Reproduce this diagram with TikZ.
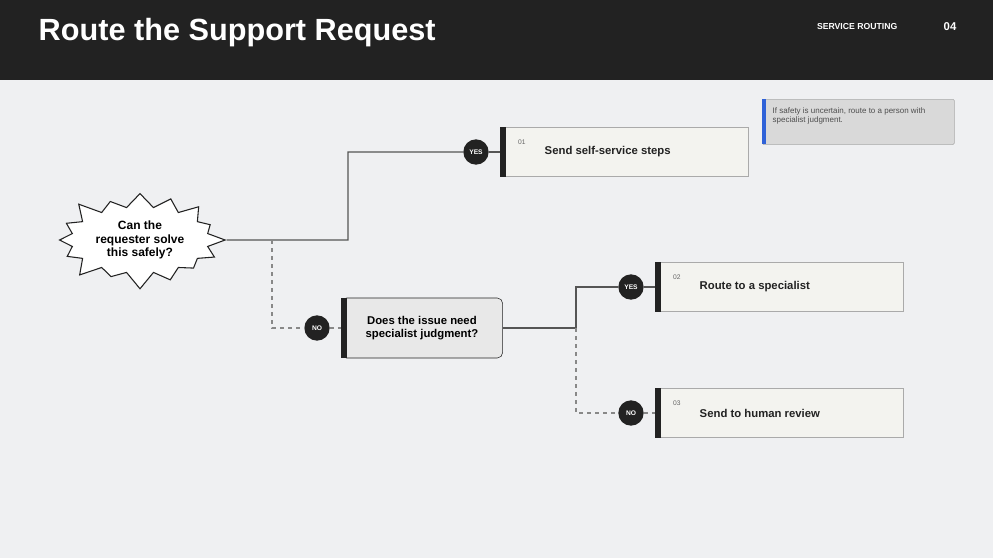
\documentclass[tikz,border=0pt]{standalone}
\usepackage{fontspec}
\setmainfont{Liberation Sans}
\usetikzlibrary{shapes.symbols}
\definecolor{ink}{HTML}{222222}
\definecolor{page}{HTML}{EFF0F2}
\definecolor{card}{HTML}{F3F3EF}
\definecolor{edge}{HTML}{AAAAAA}
\definecolor{wire}{HTML}{555555}
\definecolor{accent}{HTML}{2F62D8}
\tikzset{
  card/.style={draw=edge, fill=card, minimum width=186pt, minimum height=37pt, anchor=west},
  bar/.style={fill=ink},
  badge/.style={circle, fill=ink, text=white, minimum size=19pt, inner sep=0pt, font=\bfseries\fontsize{5}{5}\selectfont},
  link/.style={wire, line width=0.8pt},
  alt/.style={wire!70, line width=0.8pt, dashed}
}
\begin{document}
\begin{tikzpicture}[x=0.75pt, y=-0.75pt]
\fill[page] (0,0) rectangle (993,558);
\useasboundingbox (0,0) rectangle (993,558);
\fill[ink] (0,0) rectangle (993,80);
\node[anchor=west, text=white, font=\bfseries\fontsize{23}{23}\selectfont] (title) at (34,33) {Route the Support Request};
\node[anchor=east, text=white, font=\bfseries\fontsize{6.5}{6.5}\selectfont] (section) at (902,27) {SERVICE ROUTING};
\node[text=white, font=\bfseries\fontsize{8.5}{8.5}\selectfont] (page) at (950,27) {04};

% note
\node[draw=edge, fill=gray!30, rounded corners=1pt, minimum width=144pt, minimum height=34pt, anchor=north west] (note) at (762,99) {};
\fill[accent] (762,99) rectangle (766,144);
\node[anchor=north west, align=left, text=ink!80, font=\fontsize{6}{7}\selectfont] (notetext) at (768,103) {If safety is uncertain, route to a person with\\specialist judgment.};

% question 1
\node[starburst, starburst points=16, starburst point height=14pt, draw=ink, fill=white, line width=0.8pt,
      minimum width=103pt, minimum height=70pt, align=center, font=\bfseries\fontsize{9}{10}\selectfont] (q1) at (140,240) {Can the\\requester solve\\this safely?};

% question 2
\node[draw=ink, fill=gray!18, rounded corners=4pt, minimum width=121pt, minimum height=45pt, anchor=west,
      align=center, font=\bfseries\fontsize{8.5}{10}\selectfont] (q2) at (341,328) {Does the issue need\\specialist judgment?};
\fill[ink] (341,298) rectangle (347,358);

% outcomes
\foreach \name/\y/\num/\txt in {r1/152/01/Send self-service steps, r2/287/02/Route to a specialist, r3/413/03/Send to human review}{
  \ifx\name\empty\else\fi
}
\node[card] (r1) at (500,152) {};
\node[card] (r2) at (655,287) {};
\node[card] (r3) at (655,413) {};
\foreach \r/\num/\txt in {r1/01/Send self-service steps, r2/02/Route to a specialist, r3/03/Send to human review}{
  \fill[ink] (\r.north west) rectangle ([xshift=4.5pt]\r.south west);
  \node[anchor=north west, text=ink!70, font=\fontsize{5}{5}\selectfont] at ([xshift=10pt,yshift=-6pt]\r.north west) {\num};
  \node[anchor=west, text=ink, font=\bfseries\fontsize{8.5}{8.5}\selectfont] at ([xshift=30pt]\r.west) {\txt};
}

% badges
\node[badge] (y1) at (476,152) {YES};
\node[badge] (n1) at (317,328) {NO};
\node[badge] (y2) at (631,287) {YES};
\node[badge] (n2) at (631,413) {NO};

% connectors
\coordinate (s1) at (272,240);
\coordinate (s2) at (576,328);
\draw[link] (q1.east) -- (348,240) |- (y1);
\draw[link] (y1) -- (r1);
\draw[alt] (s1) |- (n1);
\draw[alt] (n1) -- (q2);
\draw[link] (q2.east) -- (s2) |- (y2);
\draw[link] (y2) -- (r2);
\draw[alt] (s2) |- (n2);
\draw[alt] (n2) -- (r3);
\end{tikzpicture}
\end{document}
